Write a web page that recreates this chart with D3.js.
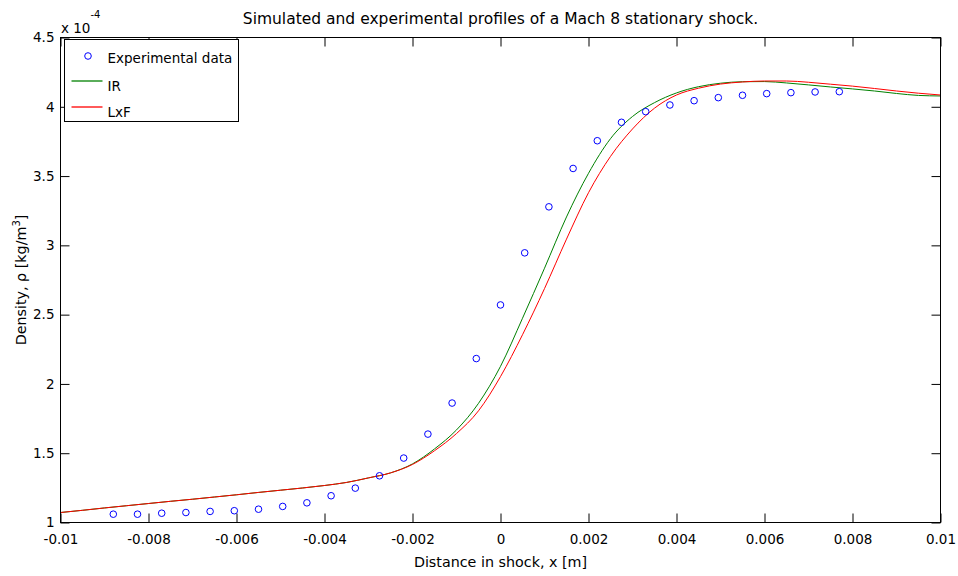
<!DOCTYPE html>
<html>
<head>
<meta charset="utf-8">
<script src="https://cdn.jsdelivr.net/npm/d3@7"></script>
<style>
    body { margin: 0; background: #fff; }
    svg { display: block; font-family: "DejaVu Sans", "Liberation Sans", Arial, sans-serif; }
</style>
</head>
<body>
<div id="wrapper"></div>
<script>
// experimental points (x in m, density in 1e-4 kg/m^3)
const expX = [-0.0088, -0.00825, -0.0077, -0.00715, -0.0066, -0.00605, -0.0055, -0.00495,
    -0.0044, -0.00385, -0.0033, -0.00275, -0.0022, -0.00165, -0.0011, -0.00055, 0,
    0.00055, 0.0011, 0.00165, 0.0022, 0.00275, 0.0033, 0.00385, 0.0044, 0.00495,
    0.0055, 0.00605, 0.0066, 0.00715, 0.0077];
const expRho = [1.06, 1.06, 1.067, 1.072, 1.08, 1.085, 1.096, 1.116,
    1.142, 1.193, 1.248, 1.337, 1.465, 1.638, 1.862, 2.183, 2.57,
    2.946, 3.278, 3.555, 3.755, 3.888, 3.965, 4.013, 4.044, 4.066,
    4.083, 4.095, 4.102, 4.107, 4.109];

// simulated profiles
const simX = [-0.01, -0.0095, -0.009, -0.0085, -0.008, -0.0075, -0.007, -0.0065, -0.006,
    -0.0055, -0.005, -0.0045, -0.004, -0.0035, -0.003, -0.0025, -0.002, -0.0015, -0.001,
    -0.0005, 0, 0.0005, 0.001, 0.0015, 0.002, 0.0025, 0.003, 0.0035, 0.004, 0.0045,
    0.005, 0.0055, 0.006, 0.0065, 0.007, 0.0075, 0.008, 0.0085, 0.009, 0.0095, 0.01];
const rhoIR = [1.072, 1.088, 1.105, 1.121, 1.137, 1.153, 1.168, 1.184, 1.200,
    1.217, 1.233, 1.249, 1.267, 1.289, 1.322, 1.358, 1.423, 1.531, 1.668,
    1.860, 2.127, 2.474, 2.835, 3.205, 3.520, 3.770, 3.930, 4.030, 4.100, 4.145,
    4.170, 4.181, 4.182, 4.172, 4.158, 4.143, 4.129, 4.114, 4.096, 4.082, 4.078];
const rhoLxF = [1.072, 1.088, 1.105, 1.121, 1.137, 1.153, 1.168, 1.184, 1.200,
    1.217, 1.233, 1.249, 1.267, 1.289, 1.322, 1.358, 1.419, 1.518, 1.642,
    1.806, 2.053, 2.355, 2.688, 3.045, 3.380, 3.642, 3.840, 3.990, 4.085, 4.134,
    4.164, 4.179, 4.186, 4.186, 4.177, 4.163, 4.149, 4.132, 4.114, 4.098, 4.085];

const xTicks = [-0.01, -0.008, -0.006, -0.004, -0.002, 0, 0.002, 0.004, 0.006, 0.008, 0.01];
const xTickLabels = ['-0.01', '-0.008', '-0.006', '-0.004', '-0.002', '0', '0.002', '0.004', '0.006', '0.008', '0.01'];
const yTicks = [1, 1.5, 2, 2.5, 3, 3.5, 4, 4.5];
const yTickLabels = ['1', '1.5', '2', '2.5', '3', '3.5', '4', '4.5'];

const seriesNames = ['Experimental data', 'IR', 'LxF'];
const seriesColors = ['#0000ff', '#008000', '#ff0000'];

function drawChart() {
    //1. Access data
    const expData = expX.map((x, i) => ({ x: x, y: expRho[i] }));
    const irData = simX.map((x, i) => ({ x: x, y: rhoIR[i] }));
    const lxfData = simX.map((x, i) => ({ x: x, y: rhoLxF[i] }));
    const xAccessor = d => d.x;
    const yAccessor = d => d.y;

    //2. Create chart dimensions
    const dimensions = {
        width: 958,
        height: 576,
        margin: {
            top: 37.5,
            right: 17.5,
            bottom: 53.5,
            left: 60.5
        }
    };
    dimensions.boundedWidth = dimensions.width
        - dimensions.margin.right - dimensions.margin.left;
    dimensions.boundedHeight = dimensions.height
        - dimensions.margin.top - dimensions.margin.bottom;
    const fontSize = '13.5px';

    //3. Draw canvas
    const wrapper = d3.select('#wrapper')
        .append('svg')
        .attr('width', dimensions.width)
        .attr('height', dimensions.height);
    const bounds = wrapper.append('g')
        .attr('transform', `translate(${dimensions.margin.left},${dimensions.margin.top})`);

    //4. Create scales
    const xScale = d3.scaleLinear()
        .domain([-0.01, 0.01])
        .range([0, dimensions.boundedWidth]);
    const yScale = d3.scaleLinear()
        .domain([1, 4.5])
        .range([dimensions.boundedHeight, 0]);

    //5. Draw data
    const lineGenerator = d3.line()
        .x(d => xScale(xAccessor(d)))
        .y(d => yScale(yAccessor(d)))
        .curve(d3.curveMonotoneX);

    bounds.append('path')
        .datum(irData)
        .attr('d', lineGenerator)
        .attr('fill', 'none')
        .attr('stroke', seriesColors[1])
        .attr('stroke-width', 1);
    bounds.append('path')
        .datum(lxfData)
        .attr('d', lineGenerator)
        .attr('fill', 'none')
        .attr('stroke', seriesColors[2])
        .attr('stroke-width', 1);

    bounds.selectAll('circle.exp')
        .data(expData)
        .join('circle')
        .attr('class', 'exp')
        .attr('cx', d => xScale(xAccessor(d)))
        .attr('cy', d => yScale(yAccessor(d)))
        .attr('r', 3.3)
        .attr('fill', 'none')
        .attr('stroke', seriesColors[0])
        .attr('stroke-width', 1);

    //6. Draw peripherals
    const tickLen = 9;
    bounds.append('g')
        .attr('transform', `translate(0,${dimensions.boundedHeight})`)
        .call(d3.axisBottom(xScale)
            .tickValues(xTicks)
            .tickFormat((d, i) => xTickLabels[i])
            .tickSizeInner(-tickLen)
            .tickSizeOuter(0)
            .tickPadding(12));
    bounds.append('g')
        .call(d3.axisTop(xScale)
            .tickValues(xTicks)
            .tickFormat('')
            .tickSizeInner(-tickLen)
            .tickSizeOuter(0));
    bounds.append('g')
        .call(d3.axisLeft(yScale)
            .tickValues(yTicks)
            .tickFormat((d, i) => yTickLabels[i])
            .tickSizeInner(-tickLen)
            .tickSizeOuter(0)
            .tickPadding(6));
    bounds.append('g')
        .attr('transform', `translate(${dimensions.boundedWidth},0)`)
        .call(d3.axisRight(yScale)
            .tickValues(yTicks)
            .tickFormat('')
            .tickSizeInner(-tickLen)
            .tickSizeOuter(0));

    bounds.selectAll('.domain').remove();
    bounds.selectAll('.tick line').attr('stroke', '#000');
    bounds.selectAll('.tick text')
        .attr('fill', '#000')
        .style('font-size', fontSize)
        .style('font-family', '"DejaVu Sans", sans-serif');

    bounds.append('rect')
        .attr('width', dimensions.boundedWidth)
        .attr('height', dimensions.boundedHeight)
        .attr('fill', 'none')
        .attr('stroke', '#000')
        .attr('stroke-width', 1);

    // exponent
    const expo = wrapper.append('text')
        .attr('x', 61)
        .attr('y', 33)
        .style('font-size', fontSize)
        .attr('fill', '#000');
    expo.append('tspan').text('x 10');
    expo.append('tspan')
        .attr('dy', -15)
        .style('font-size', '10px')
        .text('-4');

    // title
    wrapper.append('text')
        .attr('x', dimensions.margin.left + dimensions.boundedWidth / 2)
        .attr('y', 24)
        .attr('text-anchor', 'middle')
        .style('font-size', '15.5px')
        .attr('fill', '#000')
        .text('Simulated and experimental profiles of a Mach 8 stationary shock.');

    // axis labels
    wrapper.append('text')
        .attr('x', dimensions.margin.left + dimensions.boundedWidth / 2)
        .attr('y', 567)
        .attr('text-anchor', 'middle')
        .style('font-size', '14.3px')
        .attr('fill', '#000')
        .text('Distance in shock, x [m]');
    const yLabel = wrapper.append('text')
        .attr('transform', `translate(26,${dimensions.margin.top + dimensions.boundedHeight / 2}) rotate(-90)`)
        .attr('text-anchor', 'middle')
        .style('font-size', '14.3px')
        .attr('fill', '#000');
    yLabel.append('tspan').text('Density, \u03c1 [kg/m');
    yLabel.append('tspan').attr('dy', -6).style('font-size', '10px').text('3');
    yLabel.append('tspan').attr('dy', 6).text(']');

    // legend
    const legend = bounds.append('g')
        .attr('transform', 'translate(4,2)');
    legend.append('rect')
        .attr('width', 174)
        .attr('height', 82)
        .attr('fill', '#fff')
        .attr('stroke', '#000')
        .attr('stroke-width', 1);
    const legendRows = [16.5, 41.5, 67.5];
    const legendBaselines = [23.5, 51, 77];
    legend.append('circle')
        .attr('cx', 23.5)
        .attr('cy', legendRows[0])
        .attr('r', 3.3)
        .attr('fill', 'none')
        .attr('stroke', seriesColors[0])
        .attr('stroke-width', 1);
    legend.selectAll('line.legend')
        .data([1, 2])
        .join('line')
        .attr('class', 'legend')
        .attr('x1', 7).attr('x2', 38)
        .attr('y1', d => legendRows[d]).attr('y2', d => legendRows[d])
        .style('stroke', d => seriesColors[d])
        .style('stroke-width', 1.3);
    legend.selectAll('text.legend')
        .data(seriesNames)
        .join('text')
        .attr('class', 'legend')
        .attr('x', 43)
        .attr('y', (d, i) => legendBaselines[i])
        .style('font-size', fontSize)
        .attr('fill', '#000')
        .text(d => d);
}

drawChart();
</script>
</body>
</html>
